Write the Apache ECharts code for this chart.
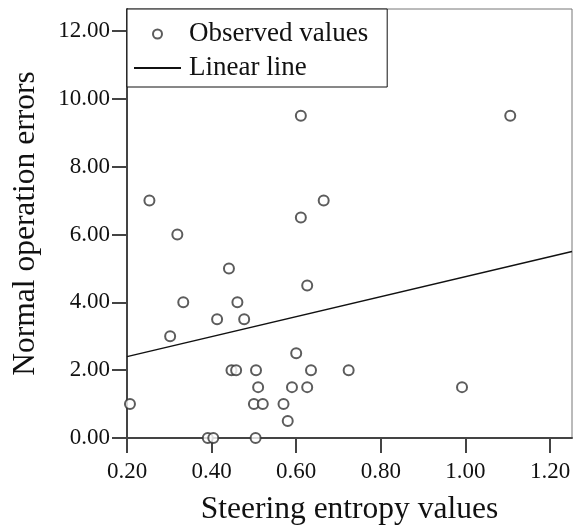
<!DOCTYPE html>
<html>
<head>
<meta charset="utf-8">
<script src="https://cdn.jsdelivr.net/npm/echarts@6/dist/echarts.min.js"></script>
<style>html,body{margin:0;padding:0;background:#fff}#c{width:574px;height:530px}</style>
</head>
<body>
<div id="c"></div>
<script>
// Observed values (steering entropy, normal operation errors)
const entropyX = [0.253,0.319,0.441,0.333,0.461,0.413,0.477,0.302,0.447,0.458,0.505,0.510,0.207,0.500,0.521,0.391,0.404,0.504,0.600,0.635,0.724,0.590,0.626,0.570,0.580,0.611,0.665,0.611,0.626,1.106,0.992];
const errorsY  = [7.0,6.0,5.0,4.0,4.0,3.5,3.5,3.0,2.0,2.0,2.0,1.5,1.0,1.0,1.0,0.0,0.0,0.0,2.5,2.0,2.0,1.5,1.5,1.0,0.5,9.5,7.0,6.5,4.5,9.5,1.5];
// Linear fit line endpoints
const lineX = [0.2, 1.252];
const lineY = [2.40, 5.50];
// Tick values
const xTicks = [0.2,0.4,0.6,0.8,1.0,1.2];
const yTicks = [0,2,4,6,8,10,12];

const FONT = "'Liberation Serif','Times New Roman',serif";
const chart = echarts.init(document.getElementById('c'), null, {renderer:'canvas'});
chart.setOption({
  animation:false,
  backgroundColor:'#fff',
  grid:{left:127,right:2,top:9,bottom:92,containLabel:false,outerBoundsMode:'none',
        show:true,borderColor:'#777',borderWidth:1,backgroundColor:'transparent'},
  legend:{
    orient:'vertical', left:127, top:9,
    padding:[10,19,4,6], itemGap:4, itemWidth:47, itemHeight:9,
    borderColor:'#111', borderWidth:1, backgroundColor:'#fff', borderRadius:0,
    textStyle:{fontFamily:FONT,fontSize:27,color:'#111',lineHeight:30,padding:[0,0,0,3]},
    data:[
      {name:'Observed values'},
      {name:'Linear line', itemStyle:{opacity:0}}
    ]
  },
  xAxis:{
    type:'value', min:0.2, max:1.252,
    name:'Steering entropy values', nameLocation:'middle', nameGap:56,
    nameTextStyle:{fontFamily:FONT,fontSize:31.5,color:'#111'},
    axisLine:{show:true,onZero:false,lineStyle:{color:'#444',width:2}},
    axisTick:{show:true,length:15,inside:false,customValues:xTicks,lineStyle:{color:'#444',width:2}},
    axisLabel:{fontFamily:FONT,fontSize:23,color:'#111',margin:22,customValues:xTicks,formatter:v=>v.toFixed(2)},
    splitLine:{show:false}
  },
  yAxis:{
    type:'value', min:0, max:12.65,
    name:'Normal operation errors', nameLocation:'middle', nameGap:85, nameRotate:90,
    nameTextStyle:{fontFamily:FONT,fontSize:31.5,color:'#111'},
    axisLine:{show:true,onZero:false,lineStyle:{color:'#444',width:2}},
    axisTick:{show:true,length:15,inside:false,customValues:yTicks,lineStyle:{color:'#444',width:2}},
    axisLabel:{fontFamily:FONT,fontSize:23,color:'#111',margin:17,customValues:yTicks,formatter:v=>v.toFixed(2)},
    splitLine:{show:false}
  },
  series:[
    {name:'Observed values',type:'scatter',symbol:'emptyCircle',symbolSize:10,
     itemStyle:{color:'#333',borderColor:'#333',borderWidth:1.5},
     data:entropyX.map((x,i)=>[x,errorsY[i]]), z:3},
    {name:'Linear line',type:'line',symbol:'none',
     lineStyle:{color:'#111',width:1.5},itemStyle:{color:'#111'},
     data:lineX.map((x,i)=>[x,lineY[i]]), z:2}
  ]
});
</script>
</body>
</html>
